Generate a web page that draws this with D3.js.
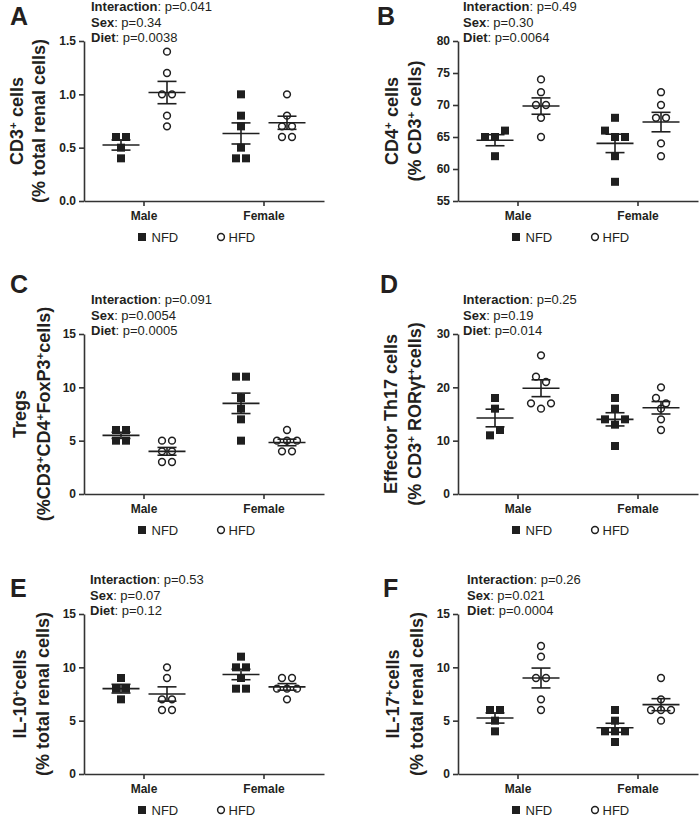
<!DOCTYPE html>
<html>
<head>
<meta charset="utf-8">
<script src="https://cdn.jsdelivr.net/npm/d3@7"></script>
<style>
  body { margin: 0; background: #fff; }
  text { font-family: "Liberation Sans", Arial, sans-serif; fill: #231f20; }
</style>
</head>
<body>
<script>
// categories
var sexes = ['Male', 'Female'];
var diets = ['NFD', 'HFD'];

// values per group: [Male NFD, Male HFD, Female NFD, Female HFD]
var cd3Values  = [[0.6, 0.6, 0.5, 0.4], [1.4, 1.2, 1.0, 1.0, 0.8, 0.7], [1.0, 0.8, 0.7, 0.5, 0.4, 0.4], [1.0, 0.8, 0.7, 0.7, 0.6, 0.6]];
var cd4Values  = [[65, 65, 66, 62], [74, 72, 70, 70, 68, 65], [68, 66, 65, 65, 62, 58], [72, 70, 68, 68, 64, 62]];
var tregValues = [[6, 6, 5, 5], [5, 5, 4, 4, 3, 3], [11, 11, 9, 8, 7, 5], [6, 5, 5, 5, 4, 4]];
var th17Values = [[18, 16, 11, 12], [26, 22, 21, 17, 16, 17], [18, 16, 14, 13, 14, 9], [20, 18, 17, 16, 14, 12]];
var il10Values = [[9, 8, 8, 7], [10, 9, 7, 7, 6, 6], [11, 10, 10, 9, 8, 8], [9, 9, 8, 8, 8, 7]];
var il17Values = [[6, 6, 5, 4], [12, 11, 9, 9, 7, 6], [6, 5, 4, 4, 4, 3], [9, 7, 6, 6, 6, 5]];

// two-way ANOVA p values: interaction, sex, diet
var statLabels = ['Interaction', 'Sex', 'Diet'];
var cd3Stats  = ['0.041', '0.34', '0.0038'];
var cd4Stats  = ['0.49', '0.30', '0.0064'];
var tregStats = ['0.091', '0.0054', '0.0005'];
var th17Stats = ['0.25', '0.19', '0.014'];
var il10Stats = ['0.53', '0.07', '0.12'];
var il17Stats = ['0.26', '0.021', '0.0004'];

// y ticks
var cd3Ticks  = [0, 0.5, 1.0, 1.5];
var cd4Ticks  = [55, 60, 65, 70, 75, 80];
var tregTicks = [0, 5, 10, 15];
var th17Ticks = [0, 10, 20, 30];
var il10Ticks = [0, 5, 10, 15];
var il17Ticks = [0, 5, 10, 15];

var svg = d3.select('body').append('svg')
  .attr('width', 700)
  .attr('height', 820);

var plotW = 240, plotH = 160;
var dark = '#1f1f1f';

// layout of each panel
var panels = [
  {letter: 'A', lx: 10, ly: 25, left: 84, bottom: 201, values: cd3Values, stats: cd3Stats, ticks: cd3Ticks, fmt: d3.format('.1f'), sx: 91,
   t1: [['CD3', 0], ['+', 1], [' cells', 0]], t2: [['(% total renal cells)', 0]], tx1: 17, tx2: 39},
  {letter: 'B', lx: 377, ly: 25, left: 458, bottom: 201, values: cd4Values, stats: cd4Stats, ticks: cd4Ticks, fmt: d3.format('d'), sx: 463,
   t1: [['CD4', 0], ['+', 1], [' cells', 0]], t2: [['(% CD3', 0], ['+', 1], [' cells)', 0]], tx1: 392, tx2: 415},
  {letter: 'C', lx: 10, ly: 293, left: 84, bottom: 494, values: tregValues, stats: tregStats, ticks: tregTicks, fmt: d3.format('d'), sx: 91,
   t1: [['Tregs', 0]], t2: [['(%CD3', 0], ['+', 1], ['CD4', 0], ['+', 1], ['FoxP3', 0], ['+', 1], ['cells)', 0]], tx1: 20, tx2: 44},
  {letter: 'D', lx: 380, ly: 293, left: 458, bottom: 494, values: th17Values, stats: th17Stats, ticks: th17Ticks, fmt: d3.format('d'), sx: 463,
   t1: [['Effector Th17 cells', 0]], t2: [['(% CD3', 0], ['+', 1], [' ROR\u03B3t', 0], ['+', 1], ['cells)', 0]], tx1: 391, tx2: 415},
  {letter: 'E', lx: 10, ly: 597, left: 84, bottom: 774, values: il10Values, stats: il10Stats, ticks: il10Ticks, fmt: d3.format('d'), sx: 90,
   t1: [['IL-10', 0], ['+', 1], ['cells', 0]], t2: [['(% total renal cells)', 0]], tx1: 20, tx2: 43},
  {letter: 'F', lx: 383, ly: 597, left: 458, bottom: 774, values: il17Values, stats: il17Stats, ticks: il17Ticks, fmt: d3.format('d'), sx: 467,
   t1: [['IL-17', 0], ['+', 1], ['cells', 0]], t2: [['(% total renal cells)', 0]], tx1: 393, tx2: 417}
];

// spread points that share a row, like a column scatter
function layoutPoints(vals, y, cx) {
  var idx = vals.map(function(v, i){ return i; }).sort(function(a, b){ return (vals[b] - vals[a]) || (a - b); });
  var rows = [], cur = null;
  idx.forEach(function(i){
    if (cur && Math.abs(y(vals[i]) - y(vals[cur[0]])) < 7) cur.push(i);
    else { cur = [i]; rows.push(cur); }
  });
  var pts = [];
  rows.forEach(function(r){
    r.sort(function(a, b){ return a - b; });
    r.forEach(function(i, k){
      pts.push({v: vals[i], x: cx + (k - (r.length - 1) / 2) * 10, y: y(vals[i])});
    });
  });
  return pts;
}

function addRich(sel, parts, size) {
  parts.forEach(function(p){
    var t = sel.append('tspan').text(p[0]);
    if (p[1]) t.attr('baseline-shift', 'super').attr('font-size', size * 0.65);
  });
}

panels.forEach(function(p){
  var g = svg.append('g').attr('class', 'panel');
  var top = p.bottom - plotH;

  var x = d3.scaleBand().domain(sexes).range([p.left, p.left + plotW]);
  var y = d3.scaleLinear().domain([p.ticks[0], p.ticks[p.ticks.length - 1]]).range([p.bottom, top]);

  // axes
  var yA = g.append('g')
    .attr('transform', 'translate(' + p.left + ',0)')
    .call(d3.axisLeft(y).tickValues(p.ticks).tickFormat(p.fmt).tickSize(5).tickSizeOuter(0).tickPadding(3));
  var xA = g.append('g')
    .attr('transform', 'translate(0,' + p.bottom + ')')
    .call(d3.axisBottom(x).tickSize(5).tickSizeOuter(0).tickPadding(5));
  [yA, xA].forEach(function(a){
    a.select('.domain').attr('stroke', '#333').attr('stroke-width', 1.6);
    a.selectAll('.tick line').attr('stroke', '#333').attr('stroke-width', 1.6);
    a.selectAll('.tick text')
      .attr('font-family', '"Liberation Sans", Arial, sans-serif')
      .attr('font-weight', 'bold')
      .attr('font-size', 12)
      .attr('fill', '#333');
  });

  // groups
  sexes.forEach(function(sex, si){
    diets.forEach(function(diet, di){
      var vals = p.values[si * 2 + di];
      var cx = x(sex) + x.bandwidth() / 2 + (di === 0 ? -23 : 23);
      var pts = layoutPoints(vals, y, cx);

      if (diet === 'NFD') {
        g.selectAll(null).data(pts).enter().append('rect')
          .attr('x', function(d){ return d.x - 4; })
          .attr('y', function(d){ return d.y - 4; })
          .attr('width', 8).attr('height', 8)
          .attr('fill', dark);
      } else {
        g.selectAll(null).data(pts).enter().append('circle')
          .attr('cx', function(d){ return d.x; })
          .attr('cy', function(d){ return d.y; })
          .attr('r', 3.4)
          .attr('fill', '#fff')
          .attr('stroke', dark)
          .attr('stroke-width', 1.5);
      }

      var m = d3.mean(vals);
      var sem = d3.deviation(vals) / Math.sqrt(vals.length);
      var eb = g.append('g').attr('stroke', dark).attr('stroke-width', 1.6);
      eb.append('line').attr('x1', cx - 18.5).attr('x2', cx + 18.5).attr('y1', y(m)).attr('y2', y(m));
      eb.append('line').attr('x1', cx).attr('x2', cx).attr('y1', y(m - sem)).attr('y2', y(m + sem));
      eb.append('line').attr('x1', cx - 9.5).attr('x2', cx + 9.5).attr('y1', y(m + sem)).attr('y2', y(m + sem));
      eb.append('line').attr('x1', cx - 9.5).attr('x2', cx + 9.5).attr('y1', y(m - sem)).attr('y2', y(m - sem));
    });
  });

  // panel letter
  g.append('text')
    .attr('x', p.lx).attr('y', p.ly)
    .attr('font-size', 25).attr('font-weight', 'bold')
    .text(p.letter);

  // stats
  p.stats.forEach(function(s, i){
    var t = g.append('text')
      .attr('x', p.sx).attr('y', top - 30 + i * 15.5)
      .attr('font-size', 13).attr('fill', '#333');
    t.append('tspan').attr('font-weight', 'bold').text(statLabels[i]);
    t.append('tspan').text(': p=' + s);
  });

  // y titles
  var yc = (top + p.bottom) / 2;
  var a1 = g.append('text')
    .attr('transform', 'translate(' + p.tx1 + ',' + yc + ') rotate(-90)')
    .attr('text-anchor', 'middle').attr('dy', '0.35em')
    .attr('font-size', 18).attr('font-weight', 'bold');
  addRich(a1, p.t1, 18);
  var a2 = g.append('text')
    .attr('transform', 'translate(' + p.tx2 + ',' + yc + ') rotate(-90)')
    .attr('text-anchor', 'middle').attr('dy', '0.35em')
    .attr('font-size', 18).attr('font-weight', 'bold');
  addRich(a2, p.t2, 18);

  // legend
  var lx = x('Male') + x.bandwidth() / 2;
  var ly = p.bottom + 36;
  g.append('rect').attr('x', lx - 6).attr('y', ly - 4).attr('width', 8).attr('height', 8).attr('fill', dark);
  g.append('text').attr('x', lx + 7.5).attr('y', ly + 5).attr('font-size', 13).text(diets[0]);
  g.append('circle').attr('cx', lx + 77).attr('cy', ly).attr('r', 3.4)
    .attr('fill', '#fff').attr('stroke', dark).attr('stroke-width', 1.5);
  g.append('text').attr('x', lx + 84.5).attr('y', ly + 5).attr('font-size', 13).text(diets[1]);
});
</script>
</body>
</html>
